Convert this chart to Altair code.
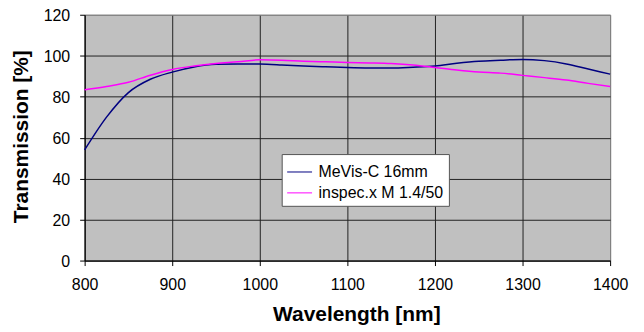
import altair as alt
import pandas as pd

wavelength = [800, 825, 850, 875, 900, 925, 950, 975, 1000, 1025, 1050, 1075, 1100,
              1125, 1150, 1175, 1200, 1225, 1250, 1275, 1300, 1325, 1350, 1375, 1400]
mevis = [54, 70, 82, 88.5, 92, 94.5, 95.8, 96, 95.9, 95.5, 95, 94.6, 94.2,
         94, 94, 94.4, 95, 96.3, 97.3, 97.8, 98.2, 97.6, 96, 93.5, 91]
inspec = [83.4, 85, 87, 90.5, 93.3, 95, 96.2, 97, 98, 97.8, 97.3, 97, 96.7,
          96.5, 96.2, 95.5, 94.3, 93, 92, 91.5, 90.4, 89.3, 88.1, 86.5, 85]
series_names = ["MeVis-C 16mm", "inspec.x M 1.4/50"]
series_colors = ["#000080", "#FF00FF"]
x_ticks = [800, 900, 1000, 1100, 1200, 1300, 1400]
y_ticks = [0, 20, 40, 60, 80, 100, 120]

rows = []
for w, a, b in zip(wavelength, mevis, inspec):
    rows.append({"wavelength": w, "value": a, "series": series_names[0]})
    rows.append({"wavelength": w, "value": b, "series": series_names[1]})
df = pd.DataFrame(rows)

FONT = "Liberation Sans"

chart = alt.Chart(df).mark_line(strokeWidth=1.5, interpolate="monotone").encode(
    x=alt.X("wavelength:Q",
            scale=alt.Scale(domain=[800, 1400], nice=False, zero=False),
            axis=alt.Axis(values=x_ticks, title="Wavelength [nm]", format="d",
                          labelPadding=11, labelFlush=False, titleX=273, titleY=60,
                          titleAlign="center", titleBaseline="alphabetic",
                          gridColor={"condition": {"test": "datum.value === 1400", "value": "#808080"},
                                     "value": "#222222"})),
    y=alt.Y("value:Q",
            scale=alt.Scale(domain=[0, 120], nice=False),
            axis=alt.Axis(values=y_ticks, title="Transmission [%]",
                          labelPadding=10, labelOffset=1, labelFlush=False,
                          titleX=-57, titleY=122,
                          titleAngle=-90, titleAlign="center", titleBaseline="alphabetic",
                          gridColor={"condition": {"test": "datum.value === 120", "value": "#808080"},
                                     "value": "#222222"})),
    color=alt.Color("series:N",
                    scale=alt.Scale(domain=series_names, range=series_colors),
                    legend=alt.Legend(orient="none", legendX=198, legendY=140, title=None,
                                      symbolType="stroke", symbolSize=625, symbolStrokeWidth=1,
                                      labelFontSize=16, labelFont=FONT, labelColor="black",
                                      fillColor="white", strokeColor="#555555",
                                      padding=5, rowPadding=0, labelOffset=6)),
).properties(
    width=528, height=247,
    padding={"left": 77, "top": 6, "right": 26, "bottom": 70},
    autosize="none",
    background="white",
).configure_view(
    fill="#C0C0C0", stroke="#808080", strokeWidth=1
).configure_axis(
    grid=True, gridOpacity=1, gridWidth=1,
    domainColor="black", domainWidth=1,
    tickColor="black", tickSize=5, tickWidth=1,
    labelFont=FONT, labelFontSize=16, labelColor="black",
    titleFont=FONT, titleFontSize=21, titleFontWeight="bold", titleColor="black",
)

chart.save("out.html", embed_options={"renderer": "svg", "actions": False})
